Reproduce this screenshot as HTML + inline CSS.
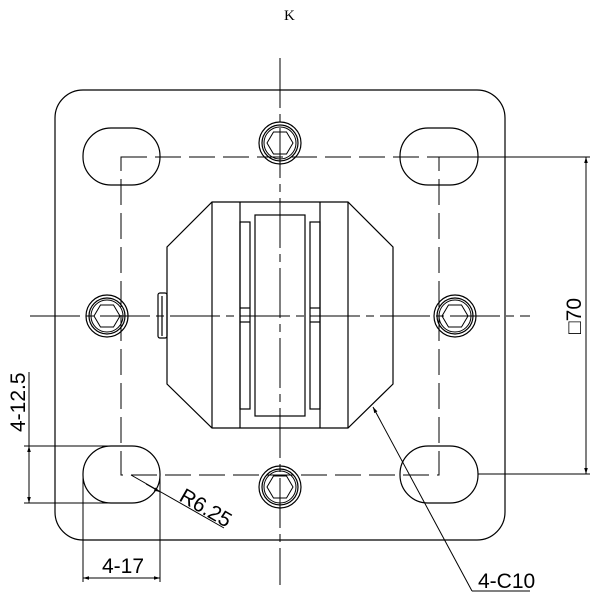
<!DOCTYPE html>
<html><head><style>html,body{margin:0;padding:0;background:#fff}svg{display:block}</style></head>
<body>
<svg width="600" height="600" viewBox="0 0 600 600" xmlns="http://www.w3.org/2000/svg" font-family="Liberation Sans, DejaVu Sans, sans-serif">
<defs>
<marker id="a" viewBox="0 0 10 10" refX="10" refY="5" markerWidth="10" markerHeight="6" orient="auto-start-reverse" markerUnits="userSpaceOnUse"><path d="M0,2 L10,5 L0,8 Z" fill="#000"/></marker>
<g id="bolt">
<circle r="21" fill="none" stroke="#000" stroke-width="1.2"/>
<circle r="18" fill="none" stroke="#000" stroke-width="1.2"/>
<circle r="16" fill="none" stroke="#000" stroke-width="1"/>
<polygon points="-13,0 -6.5,-11 6.5,-11 13,0 6.5,11 -6.5,11" fill="none" stroke="#000" stroke-width="1"/>
</g>
</defs>
<g fill="none" stroke="#000" stroke-width="1.2">
<rect x="55" y="90" width="450" height="450" rx="28"/>
<rect x="83" y="128" width="77" height="57" rx="28"/>
<rect x="400" y="128" width="78" height="57" rx="28"/>
<rect x="83" y="446" width="77" height="57" rx="28"/>
<rect x="400" y="446" width="78" height="57" rx="28"/>
<rect x="121" y="157" width="318" height="318" stroke-dasharray="26,8" stroke-width="1"/>
<line x1="280" y1="58" x2="280" y2="585" stroke-dasharray="50,6,8,6" stroke-width="1"/>
<line x1="30" y1="316" x2="530" y2="316" stroke-dasharray="50,6,8,6" stroke-width="1"/>
<polygon points="212,202 348,202 393,247 393,384 348,428 212,428 167,384 167,247"/>
<line x1="212" y1="202" x2="212" y2="428"/>
<line x1="348" y1="202" x2="348" y2="428"/>
<line x1="240" y1="202" x2="240" y2="428"/>
<line x1="320" y1="202" x2="320" y2="428"/>
<rect x="255" y="215" width="50" height="201"/>
<rect x="240" y="222" width="10" height="187"/>
<rect x="310" y="222" width="10" height="187"/>
<line x1="240" y1="308" x2="250" y2="308"/><line x1="240" y1="322" x2="250" y2="322"/>
<line x1="310" y1="308" x2="320" y2="308"/><line x1="310" y1="322" x2="320" y2="322"/>
<rect x="158" y="293" width="9" height="45" rx="2"/>
<line x1="162" y1="296" x2="162" y2="336"/>
</g>
<use href="#bolt" x="280" y="143"/>
<use href="#bolt" x="107" y="316"/>
<use href="#bolt" x="455" y="316"/>
<use href="#bolt" x="280" y="487"/>
<g stroke="#000" stroke-width="1" fill="none">
<line x1="439" y1="157" x2="590" y2="157"/>
<line x1="478" y1="474" x2="590" y2="474"/>
<line x1="586" y1="157" x2="586" y2="474" marker-start="url(#a)" marker-end="url(#a)"/>
<line x1="24" y1="446" x2="121" y2="446"/>
<line x1="24" y1="503" x2="121" y2="503"/>
<line x1="29" y1="446" x2="29" y2="503" marker-start="url(#a)" marker-end="url(#a)"/>
<line x1="29" y1="446" x2="29" y2="372"/>
<line x1="83" y1="475" x2="83" y2="582"/>
<line x1="160" y1="475" x2="160" y2="582"/>
<line x1="83" y1="578" x2="160" y2="578" marker-start="url(#a)" marker-end="url(#a)"/>
<line x1="131" y1="475" x2="224" y2="528"/>
<line x1="146" y1="484" x2="160" y2="492" marker-end="url(#a)"/>
<line x1="472" y1="591" x2="373" y2="407" marker-end="url(#a)"/>
<line x1="472" y1="591" x2="530" y2="591"/>
</g>
<g fill="#000" font-size="21">
<text x="284" y="20" font-family="Liberation Serif, serif" font-size="15">K</text>
<text x="478" y="588">4-C10</text>
<text x="102" y="573">4-17</text>
<text transform="translate(25,432) rotate(-90)">4-12.5</text>
<text transform="translate(581,334) rotate(-90)">□70</text>
<text transform="translate(178,500) rotate(30)">R6.25</text>
</g>
</svg>
</body></html>
